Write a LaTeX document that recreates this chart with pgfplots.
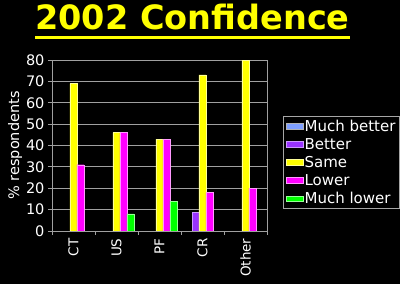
\documentclass[border=0pt]{standalone}
\usepackage{fontspec}
\setmainfont{DejaVu Sans}
\usepackage{pgfplots}
\pgfplotsset{compat=1.18}
\definecolor{cMB}{HTML}{7F9FFF}
\definecolor{cB}{HTML}{9933FF}
\definecolor{cS}{HTML}{FFFF00}
\definecolor{cL}{HTML}{FF00FF}
\definecolor{cML}{HTML}{00FF00}
\definecolor{gridc}{HTML}{A0A0A0}
\begin{document}
\begin{tikzpicture}
\fill[black] (0pt,0pt) rectangle (400pt,284pt);
\node[text=cS, font=\bfseries\fontsize{33.5}{36}\selectfont, anchor=base, inner sep=0pt] at (192.5pt,254pt) {2002 Confidence};
\draw[cS, line width=3pt] (35pt,246pt) -- (350pt,246pt);
\begin{axis}[
  at={(52pt,53pt)}, anchor=south west,
  width=215pt, height=171pt, scale only axis,
  ybar=0pt, bar width=7pt,
  xmin=-0.5, xmax=4.5, ymin=0, ymax=80,
  ytick={0,10,...,80},
  xtick={0,...,4}, xticklabels={CT,US,PF,CR,Other},
  minor xtick={-0.5,0.5,1.5,2.5,3.5,4.5},
  major x tick style={draw=none},
  xtick pos=bottom, ytick pos=left,
  tick align=outside,
  major tick length=4pt, minor tick length=4pt,
  tick style={gridc, line width=0.8pt},
  axis line style={gridc, line width=0.8pt},
  ymajorgrids, grid style={gridc, line width=0.8pt},
  /pgf/number format/assume math mode=true,
  yticklabel style={text=white, font=\fontsize{14.5}{16}\selectfont},
  x tick label style={text=white, rotate=90, anchor=east, font=\fontsize{13.5}{15}\selectfont},
  ylabel={\% respondents},
  ylabel style={at={(axis description cs:-0.172,0.5)}, anchor=center, text=white, font=\fontsize{14.5}{16}\selectfont},
  area legend,
  legend style={at={(1.074,0.672)}, anchor=north west, draw=gray!70, fill=black, text=white,
    font=\fontsize{15}{17}\selectfont, row sep=4.5pt, inner xsep=3pt, inner ysep=3pt,
    nodes={inner xsep=1pt, inner ysep=0.5pt}},
  legend cell align=left,
]
\addplot[fill=cMB, draw=gray!60, line width=0.4pt] coordinates {(0,-1)};
\addplot[fill=cB, draw=cB!50!white] coordinates {(3,9)};
\addplot[fill=cS, draw=cS!40!white] coordinates {(0,69) (1,46) (2,43) (3,73) (4,80)};
\addplot[fill=cL, draw=cL!40!white] coordinates {(0,31) (1,46) (2,43) (3,18) (4,20)};
\addplot[fill=cML, draw=cML!40!white] coordinates {(1,8) (2,14)};
\legend{Much better,Better,Same,Lower,Much lower}
\end{axis}
\end{tikzpicture}
\end{document}
